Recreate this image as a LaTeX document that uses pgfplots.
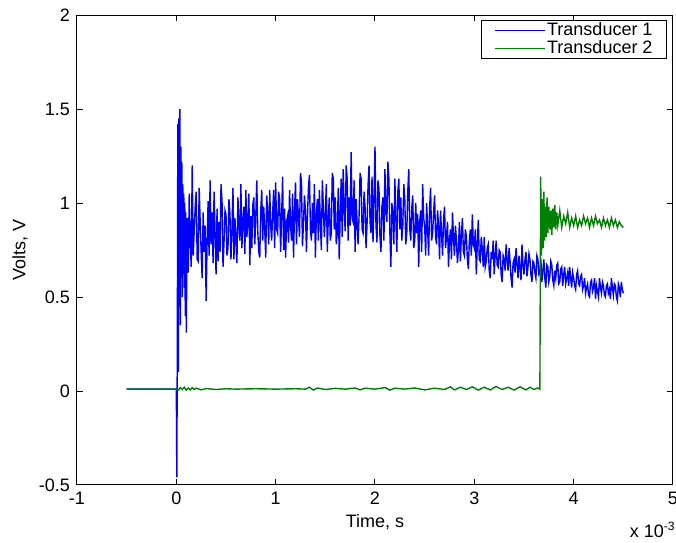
\documentclass[border=0pt]{standalone}
\usepackage{fontspec}
\setmainfont{Liberation Sans}
\usepackage{pgfplots}
\pgfplotsset{compat=1.18}
\definecolor{mblue}{rgb}{0,0,1}
\definecolor{mgreen}{rgb}{0,0.5,0}
\begin{document}
\begin{tikzpicture}
\begin{axis}[
    scale only axis,
    width=298pt, height=235pt,
    xmin=-1, xmax=5, ymin=-0.5, ymax=2,
    xtick={-1,0,1,2,3,4,5},
    ytick={-0.5,0,0.5,1,1.5,2},
    tick align=inside,
    major tick length=3pt,
    axis line style={line width=0.5pt},
    every tick/.style={black, line width=0.5pt},
    /pgf/number format/assume math mode=true,
    tick label style={font=\fontsize{9}{10.8}\selectfont},
    label style={font=\fontsize{9}{10.8}\selectfont},
    xlabel={Time, s},
    ylabel={Volts, V},
    xlabel style={at={(axis description cs:0.5,-0.0787)}, anchor=center},
    ylabel style={at={(axis description cs:-0.0957,0.5)}, anchor=center},
    legend style={at={(rel axis cs:0.99,0.989)}, anchor=north east,
        draw=black, line width=0.5pt, fill=white,
        font=\fontsize{9}{10.8}\selectfont,
        inner xsep=6pt, inner ysep=0.5pt, row sep=0pt,
        nodes={inner xsep=1pt, inner ysep=0.5pt}},
    legend cell align=left,
]
% Transducer 1
\addplot[color=mblue, line width=0.7pt, mark=none,
    legend image code/.code={\draw[mblue, line width=0.6pt] (0pt,0pt) -- (25pt,0pt);}] coordinates {
(-0.5,0.01)(-0.02,0.01)(0,0.01)(0.005,-0.46)(0.01,0.25)(0.015,1.42)(0.02,0.1)(0.025,1.45)(0.03,0.45)(0.035,1.5)(0.04,0.35)(0.045,1.3)(0.05,0.6)(0.055,1.22)(0.06,0.5)(0.065,1.1)(0.07,0.62)(0.075,1.05)(0.08,0.55)(0.085,1.0)(0.09,0.4)(0.095,0.95)
(0.10,0.31)(0.11,0.92)(0.12,0.63)(0.13,1.05)(0.14,0.79)(0.15,0.66)(0.16,1.2)(0.17,0.72)(0.18,0.85)(0.19,0.98)(0.20,1.06)(0.21,0.70)(0.22,0.69)(0.23,1.08)(0.24,0.90)(0.25,0.74)(0.26,0.6)(0.27,0.95)(0.28,0.74)(0.29,0.88)
(0.30,0.48)(0.31,0.80)(0.32,1.01)(0.33,0.72)(0.34,1.12)(0.35,0.78)(0.36,0.95)(0.37,0.68)(0.38,1.06)(0.39,0.84)(0.40,0.62)(0.41,0.97)(0.42,0.69)(0.43,0.90)(0.44,0.74)(0.45,1.10)(0.46,1.01)(0.47,0.66)(0.48,0.79)(0.49,0.96)
(0.50,0.94)(0.51,0.72)(0.52,0.76)(0.53,1.02)(0.54,0.94)(0.55,0.70)(0.56,0.85)(0.57,1.08)(0.58,0.70)(0.59,0.92)(0.60,0.80)(0.61,0.68)(0.62,1.03)(0.63,0.88)(0.64,0.80)(0.65,1.10)(0.66,0.76)(0.67,0.90)(0.68,0.98)(0.69,0.73)
(0.70,1.07)(0.71,0.82)(0.72,0.89)(0.73,1.05)(0.74,0.67)(0.75,0.93)(0.76,0.76)(0.77,0.99)(0.78,1.03)(0.79,0.78)(0.80,0.93)(0.81,1.12)(0.82,0.85)(0.83,0.74)(0.84,0.71)(0.85,0.96)(0.86,1.07)(0.87,0.80)(0.88,0.98)(0.89,0.86)
(0.90,0.71)(0.91,1.04)(0.92,0.94)(0.93,0.78)(0.94,1.07)(0.95,0.88)(0.96,0.80)(0.97,0.95)(0.98,1.07)(0.99,0.76)
(1.00,1.11)(1.01,0.86)(1.02,0.84)(1.03,1.06)(1.04,1.02)(1.05,0.74)(1.06,0.93)(1.07,1.14)(1.08,0.75)(1.09,0.97)(1.10,0.71)(1.11,0.90)(1.12,0.93)(1.13,0.79)(1.14,1.07)(1.15,0.88)(1.16,0.80)(1.17,1.05)(1.18,0.71)(1.19,0.96)
(1.20,1.11)(1.21,0.78)(1.22,1.02)(1.23,0.92)(1.24,0.82)(1.25,1.16)(1.26,1.11)(1.27,0.77)(1.28,0.89)(1.29,1.04)(1.30,0.96)(1.31,0.74)(1.32,0.93)(1.33,1.08)(1.34,1.15)(1.35,0.86)(1.36,0.80)(1.37,1.00)(1.38,0.84)(1.39,1.10)
(1.40,0.71)(1.41,0.94)(1.42,1.02)(1.43,0.80)(1.44,1.07)(1.45,0.90)(1.46,0.75)(1.47,1.12)(1.48,0.98)(1.49,0.82)
(1.50,0.94)(1.51,1.10)(1.52,0.74)(1.53,0.92)(1.54,1.03)(1.55,0.80)(1.56,0.84)(1.57,1.16)(1.58,1.13)(1.59,0.86)(1.60,1.03)(1.61,0.78)(1.62,0.84)(1.63,1.08)(1.64,0.70)(1.65,0.95)(1.66,1.13)(1.67,0.82)(1.68,1.18)(1.69,0.96)
(1.70,0.85)(1.71,1.20)(1.72,1.13)(1.73,0.80)(1.74,1.03)(1.75,0.88)(1.76,1.27)(1.77,0.92)(1.78,0.90)(1.79,1.12)(1.80,0.74)(1.81,1.02)(1.82,0.89)(1.83,0.78)(1.84,0.94)(1.85,1.16)(1.86,1.13)(1.87,0.86)(1.88,0.84)(1.89,1.06)
(1.90,0.98)(1.91,0.76)(1.92,0.89)(1.93,1.09)(1.94,1.20)(1.95,0.90)(1.96,0.84)(1.97,1.14)(1.98,0.79)(1.99,1.02)
(2.00,1.30)(2.01,0.88)(2.02,0.79)(2.03,1.12)(2.04,1.08)(2.05,0.82)(2.06,0.74)(2.07,0.98)(2.08,1.03)(2.09,0.80)(2.10,1.18)(2.11,0.95)(2.12,0.90)(2.13,1.22)(2.14,1.13)(2.15,0.84)(2.16,0.66)(2.17,1.00)(2.18,0.94)(2.19,0.78)
(2.20,1.13)(2.21,0.92)(2.22,0.74)(2.23,1.06)(2.24,1.13)(2.25,0.86)(2.26,1.03)(2.27,0.80)(2.28,0.88)(2.29,1.10)
(2.30,1.02)(2.31,0.78)(2.32,0.84)(2.33,1.06)(2.34,1.18)(2.35,0.86)(2.36,0.80)(2.37,0.97)(2.38,1.04)(2.39,0.76)(2.40,0.80)(2.41,1.00)(2.42,0.84)(2.43,0.94)(2.44,0.66)(2.45,0.90)(2.46,0.96)(2.47,0.74)(2.48,1.10)(2.49,0.92)
(2.50,0.88)(2.51,0.72)(2.52,1.00)(2.53,0.86)(2.54,0.72)(2.55,0.98)(2.56,1.08)(2.57,0.80)(2.58,0.84)(2.59,0.95)(2.60,1.04)(2.61,0.82)(2.62,0.78)(2.63,0.96)(2.64,0.88)(2.65,0.70)(2.66,0.96)(2.67,0.84)(2.68,0.72)(2.69,0.91)
(2.70,0.98)(2.71,0.76)(2.72,0.82)(2.73,0.90)(2.74,0.66)(2.75,0.80)(2.76,0.86)(2.77,0.70)(2.78,0.95)(2.79,0.82)(2.80,0.72)(2.81,0.88)(2.82,0.80)(2.83,0.68)(2.84,0.75)(2.85,0.90)(2.86,0.69)(2.87,0.83)(2.88,0.92)(2.89,0.74)
(2.90,0.72)(2.91,0.86)(2.92,0.82)(2.93,0.70)(2.94,0.65)(2.95,0.80)(2.96,0.86)(2.97,0.72)(2.98,0.94)(2.99,0.78)(3.00,0.76)(3.01,0.86)(3.02,0.62)(3.03,0.78)(3.04,0.91)(3.05,0.70)(3.06,0.69)(3.07,0.82)(3.08,0.76)(3.09,0.66)
(3.10,0.82)(3.11,0.66)(3.12,0.69)(3.13,0.76)(3.14,0.78)(3.15,0.64)(3.16,0.60)(3.17,0.74)(3.18,0.70)(3.19,0.80)(3.20,0.62)(3.21,0.72)(3.22,0.80)(3.23,0.67)(3.24,0.66)(3.25,0.75)(3.26,0.74)(3.27,0.62)(3.28,0.58)(3.29,0.72)
(3.30,0.70)(3.31,0.64)(3.32,0.78)(3.33,0.70)(3.34,0.64)(3.35,0.76)(3.36,0.69)(3.37,0.60)(3.38,0.55)(3.39,0.68)(3.40,0.70)(3.41,0.63)(3.42,0.76)(3.43,0.68)(3.44,0.60)(3.45,0.72)(3.46,0.66)(3.47,0.59)(3.48,0.78)(3.49,0.67)
(3.50,0.62)(3.51,0.70)(3.52,0.74)(3.53,0.61)(3.54,0.66)(3.55,0.73)(3.56,0.70)(3.57,0.62)(3.58,0.58)(3.59,0.69)(3.60,0.68)(3.61,0.63)(3.62,0.60)(3.63,0.72)(3.64,0.70)(3.65,0.62)
(3.66,0.63)(3.67,0.70)(3.68,0.58)(3.69,0.64)(3.70,0.70)(3.71,0.60)(3.72,0.55)(3.73,0.67)(3.74,0.66)(3.75,0.58)(3.76,0.61)(3.77,0.69)(3.78,0.67)(3.79,0.59)(3.80,0.56)(3.81,0.64)(3.82,0.60)(3.83,0.67)(3.84,0.68)(3.85,0.57)
(3.86,0.58)(3.87,0.65)(3.88,0.66)(3.89,0.56)(3.90,0.62)(3.91,0.66)(3.92,0.57)(3.93,0.60)(3.94,0.63)(3.95,0.56)(3.96,0.66)(3.97,0.60)(3.98,0.55)(3.99,0.63)(4.00,0.60)(4.01,0.56)(4.02,0.54)(4.03,0.62)(4.04,0.64)(4.05,0.57)
(4.06,0.56)(4.07,0.61)(4.08,0.62)(4.09,0.54)
(4.10,0.56)(4.11,0.60)(4.12,0.52)(4.13,0.55)(4.14,0.57)(4.15,0.51)(4.16,0.50)(4.17,0.58)(4.18,0.59)(4.19,0.53)(4.20,0.55)(4.21,0.60)(4.22,0.49)(4.23,0.56)(4.24,0.53)(4.25,0.50)(4.26,0.60)(4.27,0.55)(4.28,0.52)(4.29,0.58)
(4.30,0.56)(4.31,0.51)(4.32,0.50)(4.33,0.56)(4.34,0.57)(4.35,0.52)(4.36,0.54)(4.37,0.49)(4.38,0.60)(4.39,0.55)(4.40,0.51)(4.41,0.57)(4.42,0.56)(4.43,0.50)(4.44,0.48)(4.45,0.57)(4.46,0.55)(4.47,0.50)(4.48,0.58)(4.49,0.54)
(4.50,0.52)
};
\addlegendentry{Transducer 1}
% Transducer 2
\addplot[color=mgreen, line width=0.7pt, mark=none,
    legend image code/.code={\draw[mgreen, line width=0.6pt] (0pt,0pt) -- (25pt,0pt);}] coordinates {
(-0.50,0.01)(0.00,0.01)(0.02,0.005)(0.04,0.018)(0.06,0.008)(0.08,0.02)(0.10,0.005)(0.12,0.016)(0.14,0.006)(0.16,0.018)(0.18,0.008)(0.20,0.015)(0.25,0.006)(0.30,0.013)(0.40,0.008)(0.50,0.012)(0.60,0.01)(0.80,0.012)(1.00,0.01)(1.20,0.012)
(1.30,0.01)(1.34,0.02)(1.38,0.005)(1.42,0.016)(1.50,0.008)(1.60,0.014)(1.70,0.01)(1.80,0.016)(1.85,0.006)(1.90,0.015)(2.00,0.01)(2.10,0.018)(2.15,0.005)(2.20,0.015)(2.30,0.01)(2.40,0.016)(2.50,0.006)(2.60,0.015)(2.70,0.008)
(2.76,0.022)(2.80,0.006)(2.86,0.02)(2.92,0.008)(2.98,0.022)(3.04,0.005)(3.10,0.02)(3.16,0.006)(3.22,0.024)(3.28,0.008)(3.34,0.02)(3.40,0.005)(3.46,0.022)(3.52,0.006)(3.56,0.02)(3.60,0.008)(3.64,0.016)(3.66,0.01)
(3.668,1.14)(3.676,0.72)(3.684,1.02)(3.692,0.76)(3.70,1.06)(3.708,0.80)(3.716,0.98)(3.724,0.82)(3.732,1.03)(3.74,0.84)(3.75,0.98)(3.76,0.86)(3.77,0.96)(3.78,0.83)(3.79,0.97)(3.80,0.87)(3.81,0.99)(3.82,0.86)(3.83,0.95)(3.84,0.88)
(3.86,0.96)(3.88,0.87)(3.90,0.93)(3.92,0.89)(3.94,0.95)(3.96,0.87)(3.98,0.92)(4.00,0.88)(4.02,0.93)(4.04,0.87)(4.06,0.91)(4.08,0.88)(4.10,0.93)(4.12,0.89)(4.14,0.92)(4.16,0.87)(4.18,0.92)(4.20,0.88)(4.22,0.93)(4.24,0.89)
(4.26,0.91)(4.28,0.87)(4.30,0.92)(4.32,0.88)(4.34,0.91)(4.36,0.87)(4.38,0.92)(4.40,0.88)(4.42,0.91)(4.44,0.87)(4.46,0.90)(4.48,0.88)(4.50,0.87)
};
\addlegendentry{Transducer 2}
\end{axis}
\node[anchor=base east, inner sep=0pt, font=\fontsize{9}{10.8}\selectfont] at (299.5pt,-26.5pt) {x 10\textsuperscript{-3}};
\pgfresetboundingbox
\useasboundingbox (-38.5pt,-28.5pt) rectangle (299.5pt,242.5pt);
\end{tikzpicture}
\end{document}
